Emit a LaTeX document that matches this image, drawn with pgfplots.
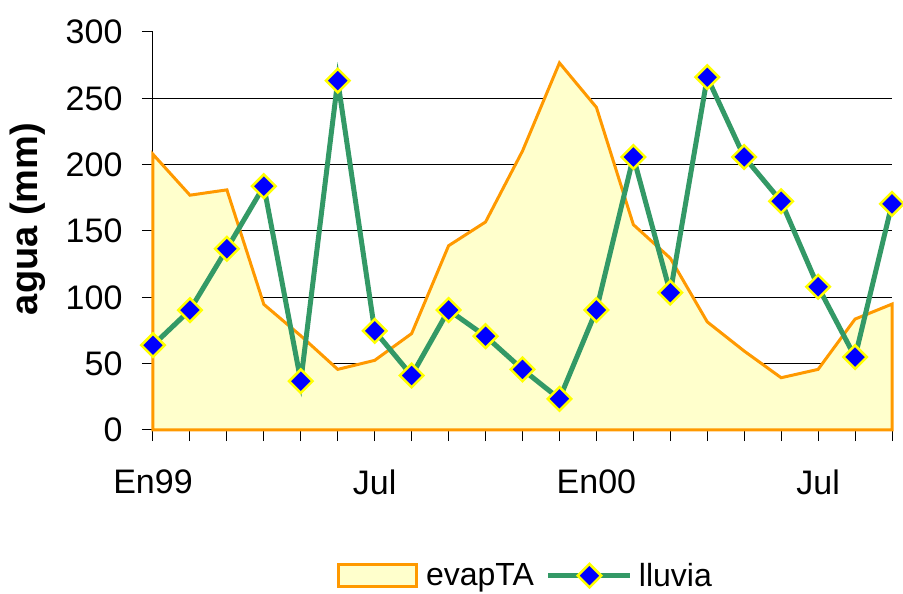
\documentclass[border=0pt]{standalone}
\usepackage{pgfplots}
\pgfplotsset{compat=1.18}
\usepackage{fontspec}
\setmainfont{Liberation Sans}
\definecolor{lgreen}{HTML}{339966}
\definecolor{eorange}{HTML}{FF9900}
\definecolor{efill}{HTML}{FFFFCC}
\definecolor{mblue}{HTML}{0000FF}
\definecolor{myellow}{HTML}{FFFF00}
\pgfplotsset{
  arealeg/.style={legend image code/.code={\draw[##1] (0pt,-11pt) rectangle (78pt,11pt); \path (84pt,0pt);}},
  lineleg/.style={legend image code/.code={\draw[##1, mark repeat=2, mark phase=2] plot coordinates {(0pt,0pt) (41pt,0pt) (82pt,0pt)}; \path (86pt,0pt);}},
}
\begin{document}
\begin{tikzpicture}[font=\fontsize{34}{40}\selectfont]
\begin{axis}[
  at={(0,0)}, anchor=origin,
  scale only axis, width=739pt, height=398pt,
  xmin=0, xmax=20, ymin=0, ymax=300,
  axis x line*=bottom, axis y line*=left,
  axis line style={line width=1pt, black, -},
  xtick={0,...,20},
  xticklabels={En99,,,,,,Jul,,,,,,En00,,,,,,Jul,,},
  ytick={0,50,...,250},
  extra y ticks={300},
  extra y tick style={grid=none},
  ymajorgrids, grid style={line width=1pt, black},
  tick align=outside, major tick length=11pt,
  tick style={line width=1pt, black},
  /pgf/number format/assume math mode=true,
  tick label style={font=\fontsize{34}{40}\selectfont},
  xticklabel style={yshift=-25pt},
  yticklabel style={xshift=-16pt},
  ylabel={\textbf{agua (mm)}},
  ylabel style={at={(axis description cs:-0.169,0.53)}, anchor=center, font=\fontsize{38}{44}\selectfont},
  clip=false,
  legend columns=2,
  legend style={at={(axis description cs:0.504,-0.366)}, anchor=center, draw=none, fill=none, inner sep=0pt, font=\fontsize{32}{38}\selectfont, /tikz/every even column/.append style={column sep=10pt}},
]
\addplot[fill=efill, draw=eorange, line width=3pt, arealeg]
  coordinates {
  (0,207.8) (1,177) (2,181) (3,94.7) (4,71) (5,45.7) (6,52.5) (7,72.7)
  (8,138.9) (9,156.8) (10,210.3) (11,276.7) (12,243.2) (13,154.8) (14,129.5)
  (15,81.5) (16,59.5) (17,39.4) (18,45.7) (19,83.6) (20,94.9)
  } \closedcycle;
\addlegendentry{evapTA}
\addplot[color=lgreen, line width=5pt, mark=square*, mark size=8.3pt,
  mark options={rotate=45, fill=mblue, draw=myellow, line width=2.5pt}, lineleg]
  coordinates {
  (0,63.9) (1,90.4) (2,136.6) (3,183.8) (4,36.8) (5,263.3) (6,74.7) (7,41.1)
  (8,90.4) (9,70.7) (10,45.7) (11,23.5) (12,90.4) (13,205.8) (14,103.5)
  (15,265.9) (16,205.8) (17,172.4) (18,108) (19,55) (20,170.5)
  };
\addlegendentry{lluvia}
\end{axis}
\pgfresetboundingbox
\path (-153pt,-164pt) rectangle (750pt,430pt);
\end{tikzpicture}
\end{document}
